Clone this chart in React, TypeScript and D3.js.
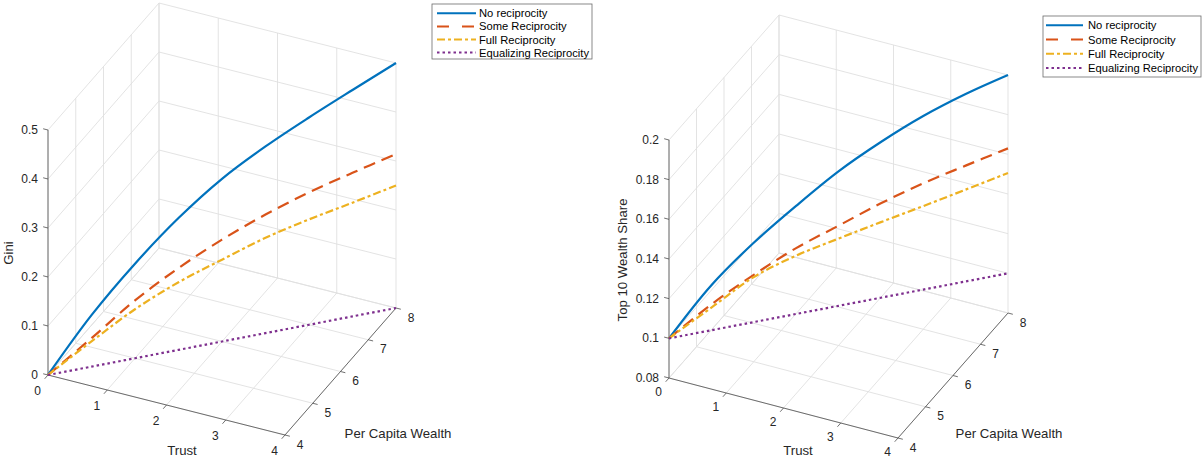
import * as d3 from 'd3'

const W = 1202
const H = 457

// shared path: trust and per-capita wealth rise together
const TRUST = [0, 0.5, 1, 1.5, 2, 2.5, 3, 3.5, 4]
const WEALTH = [4, 4.5, 5, 5.5, 6, 6.5, 7, 7.5, 8]

const GINI_NONE = [0, 0.105, 0.193, 0.269, 0.332, 0.381, 0.423, 0.462, 0.5]
const GINI_SOME = [0, 0.058, 0.118, 0.167, 0.208, 0.242, 0.27, 0.293, 0.314]
const GINI_FULL = [0, 0.0515, 0.1, 0.138, 0.167, 0.1945, 0.215, 0.232, 0.25]
const GINI_EQUAL = [0, 0, 0, 0, 0, 0, 0, 0, 0]

const TOP10_NONE = [0.1, 0.1227, 0.14, 0.1545, 0.1678, 0.1785, 0.1875, 0.1945, 0.2]
const TOP10_SOME = [0.1, 0.113, 0.1238, 0.1332, 0.1404, 0.1476, 0.1536, 0.1584, 0.163]
const TOP10_FULL = [0.1, 0.1114, 0.1227, 0.1294, 0.1339, 0.1381, 0.1421, 0.1463, 0.1506]
const TOP10_EQUAL = [0.1, 0.1, 0.1, 0.1, 0.1, 0.1, 0.1, 0.1, 0.1]

const TRUST_TICKS = [0, 1, 2, 3, 4]
const WEALTH_TICKS = [4, 5, 6, 7, 8]
const GINI_TICKS = [0, 0.1, 0.2, 0.3, 0.4, 0.5]
const TOP10_TICKS = [0.08, 0.1, 0.12, 0.14, 0.16, 0.18, 0.2]

const SERIES_NAMES = ['No reciprocity', 'Some Reciprocity', 'Full Reciprocity', 'Equalizing Reciprocity']
// MATLAB default colour order
const SERIES_COLORS = ['#0072BD', '#D95319', '#EDB120', '#7E2F8E']
const SERIES_DASH = ['', '12 7', '8 3 3 3', '2.5 3']
const LEGEND_DASH = ['', '12 13', '8 3 3 3', '2.5 3']

const FONT = '"Liberation Sans", Arial, Helvetica, sans-serif'
const GRID = '#e0e0e0'
const AXIS = '#4d4d4d'
const TEXT = '#262626'

interface LegendCfg {
  x: number; y: number; w: number; h: number
  row0: number; rowH: number; lx0: number; lx1: number; tx: number
}

interface PanelCfg {
  origin: [number, number]
  trustVec: [number, number]
  wealthVec: [number, number]
  zHeight: number
  zDomain: [number, number]
  zTicks: number[]
  zFormat: (v: number) => string
  series: number[][]
  zLabel: string
  zLabelPos: [number, number]
  trustLabelPos: [number, number]
  wealthLabelPos: [number, number]
  trustTickDy: number
  legend: LegendCfg
}

const PANELS: PanelCfg[] = [
  {
    origin: [48, 375],
    trustVec: [237, 60],
    wealthVec: [111, -127],
    zHeight: 245,
    zDomain: [0, 0.5],
    zTicks: GINI_TICKS,
    zFormat: (v) => (v === 0 ? '0' : String(+v.toFixed(2))),
    series: [GINI_NONE, GINI_SOME, GINI_FULL, GINI_EQUAL],
    zLabel: 'Gini',
    zLabelPos: [13, 253],
    trustLabelPos: [182, 455],
    wealthLabelPos: [398, 438],
    trustTickDy: 16,
    legend: { x: 432, y: 4, w: 160, h: 55, row0: 13.3, rowH: 13.1, lx0: 437, lx1: 476, tx: 479 },
  },
  {
    origin: [669, 378],
    trustVec: [229, 60],
    wealthVec: [110, -125],
    zHeight: 238,
    zDomain: [0.08, 0.2],
    zTicks: TOP10_TICKS,
    zFormat: (v) => String(+v.toFixed(2)),
    series: [TOP10_NONE, TOP10_SOME, TOP10_FULL, TOP10_EQUAL],
    zLabel: 'Top 10 Wealth Share',
    zLabelPos: [627, 260],
    trustLabelPos: [798, 455],
    wealthLabelPos: [1009, 438],
    trustTickDy: 13.5,
    legend: { x: 1043, y: 16, w: 158, h: 61, row0: 25.3, rowH: 14.2, lx0: 1046, lx1: 1083, tx: 1088 },
  },
]

function unit(v: [number, number]): [number, number] {
  const l = Math.hypot(v[0], v[1])
  return [v[0] / l, v[1] / l]
}

function Panel({ cfg }: { cfg: PanelCfg }) {
  const ts = d3.scaleLinear().domain([0, 4]).range([0, 1])
  const ws = d3.scaleLinear().domain([4, 8]).range([0, 1])
  const zs = d3.scaleLinear().domain(cfg.zDomain).range([0, cfg.zHeight])
  const [ox, oy] = cfg.origin
  const T = cfg.trustVec
  const Wv = cfg.wealthVec
  const z0 = cfg.zDomain[0]
  const z1 = cfg.zDomain[1]

  const P = (tr: number, w: number, z: number): [number, number] => [
    ox + ts(tr) * T[0] + ws(w) * Wv[0],
    oy + ts(tr) * T[1] + ws(w) * Wv[1] - zs(z),
  ]

  // grid segments on the back wall, left wall and floor
  const grid: [number, number][][] = []
  TRUST_TICKS.forEach((t) => {
    grid.push([P(t, 8, z0), P(t, 8, z1)])
    grid.push([P(t, 4, z0), P(t, 8, z0)])
  })
  WEALTH_TICKS.forEach((w) => {
    grid.push([P(0, w, z0), P(0, w, z1)])
    grid.push([P(0, w, z0), P(4, w, z0)])
  })
  cfg.zTicks.forEach((z) => {
    grid.push([P(0, 8, z), P(4, 8, z)])
    grid.push([P(0, 4, z), P(0, 8, z)])
  })

  const tU = unit(T)
  const wU = unit(Wv)
  const tickLen = 5

  const line = d3.line<[number, number]>().x((d) => d[0]).y((d) => d[1]).curve(d3.curveCatmullRom.alpha(0.5))

  const lg = cfg.legend

  return (
    <g>
      {grid.map((s, i) => (
        <line key={`g${i}`} x1={s[0][0]} y1={s[0][1]} x2={s[1][0]} y2={s[1][1]} stroke={GRID} strokeWidth={0.9} />
      ))}

      {/* axes */}
      <g stroke={AXIS} strokeWidth={0.8}>
        <line x1={P(0, 4, z0)[0]} y1={P(0, 4, z0)[1]} x2={P(0, 4, z1)[0]} y2={P(0, 4, z1)[1]} />
        <line x1={P(0, 4, z0)[0]} y1={P(0, 4, z0)[1]} x2={P(4, 4, z0)[0]} y2={P(4, 4, z0)[1]} />
        <line x1={P(4, 4, z0)[0]} y1={P(4, 4, z0)[1]} x2={P(4, 8, z0)[0]} y2={P(4, 8, z0)[1]} />
        {cfg.zTicks.map((z) => {
          const [x, y] = P(0, 4, z)
          return <line key={`zt${z}`} x1={x} y1={y} x2={x - tU[0] * tickLen} y2={y - tU[1] * tickLen} />
        })}
        {TRUST_TICKS.map((t) => {
          const [x, y] = P(t, 4, z0)
          return <line key={`tt${t}`} x1={x} y1={y} x2={x - wU[0] * tickLen} y2={y - wU[1] * tickLen} />
        })}
        {WEALTH_TICKS.map((w) => {
          const [x, y] = P(4, w, z0)
          return <line key={`wt${w}`} x1={x} y1={y} x2={x + tU[0] * tickLen} y2={y + tU[1] * tickLen} />
        })}
      </g>

      {/* data */}
      {cfg.series.map((vals, si) => {
        const pts = vals.map((v, i) => P(TRUST[i], WEALTH[i], v))
        return (
          <path
            key={`s${si}`}
            d={line(pts) ?? ''}
            fill="none"
            stroke={SERIES_COLORS[si]}
            strokeWidth={2.2}
            strokeDasharray={SERIES_DASH[si] || undefined}
          />
        )
      })}

      {/* tick labels */}
      <g fontFamily={FONT} fontSize={12} fill={TEXT}>
        {cfg.zTicks.map((z) => {
          const [x, y] = P(0, 4, z)
          return (
            <text key={`zl${z}`} x={x - 10} y={y} textAnchor="end" dominantBaseline="central">
              {cfg.zFormat(z)}
            </text>
          )
        })}
        {TRUST_TICKS.map((t) => {
          const [x, y] = P(t, 4, z0)
          return (
            <text key={`tl${t}`} x={x - 10.5} y={y + cfg.trustTickDy} textAnchor="middle" dominantBaseline="central">
              {t}
            </text>
          )
        })}
        {WEALTH_TICKS.map((w) => {
          const [x, y] = P(4, w, z0)
          return (
            <text key={`wl${w}`} x={x + 15} y={y + 9.5} textAnchor="middle" dominantBaseline="central">
              {w}
            </text>
          )
        })}
      </g>

      {/* axis labels */}
      <g fontFamily={FONT} fontSize={13.2} fill={TEXT}>
        <text
          transform={`translate(${cfg.zLabelPos[0]},${cfg.zLabelPos[1]}) rotate(-90)`}
          textAnchor="middle"
        >
          {cfg.zLabel}
        </text>
        <text x={cfg.trustLabelPos[0]} y={cfg.trustLabelPos[1]} textAnchor="middle">Trust</text>
        <text x={cfg.wealthLabelPos[0]} y={cfg.wealthLabelPos[1]} textAnchor="middle">Per Capita Wealth</text>
      </g>

      {/* legend */}
      <g>
        <rect x={lg.x} y={lg.y} width={lg.w} height={lg.h} fill="#fff" stroke="#6b6b6b" strokeWidth={0.8} />
        {SERIES_NAMES.map((name, i) => {
          const y = lg.row0 + i * lg.rowH
          return (
            <g key={name}>
              <line
                x1={lg.lx0}
                x2={lg.lx1}
                y1={y}
                y2={y}
                stroke={SERIES_COLORS[i]}
                strokeWidth={2}
                strokeDasharray={LEGEND_DASH[i] || undefined}
              />
              <text x={lg.tx} y={y} dominantBaseline="central" fontFamily={FONT} fontSize={11.2} fill="#000">
                {name}
              </text>
            </g>
          )
        })}
      </g>
    </g>
  )
}

export default function App() {
  return (
    <svg
      width={W}
      height={H}
      viewBox={`0 0 ${W} ${H}`}
      style={{ position: 'absolute', left: 0, top: 0, background: '#fff', display: 'block' }}
    >
      <rect width={W} height={H} fill="#fff" />
      {PANELS.map((p, i) => (
        <Panel key={i} cfg={p} />
      ))}
    </svg>
  )
}
